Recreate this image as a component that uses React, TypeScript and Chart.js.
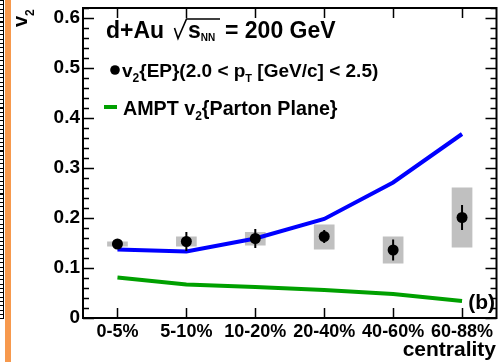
import { useEffect, useRef } from "react";
import { Chart, registerables } from "chart.js";

Chart.register(...registerables);

const categories = ["0-5%", "5-10%", "10-20%", "20-40%", "40-60%", "60-88%"];
const v2EP = [0.148, 0.153, 0.159, 0.163, 0.136, 0.201];
const v2StatErr = [0.004, 0.019, 0.019, 0.013, 0.021, 0.025];
const v2SysLow = [0.143, 0.143, 0.145, 0.137, 0.109, 0.141];
const v2SysHigh = [0.153, 0.163, 0.172, 0.187, 0.163, 0.261];
const amptBlue = [0.137, 0.133, 0.159, 0.198, 0.271, 0.368];
const amptGreen = [0.081, 0.067, 0.062, 0.056, 0.048, 0.034];
const yTickValues = [0, 0.1, 0.2, 0.3, 0.4, 0.5, 0.6];
const yMinorStep = 0.02;
const yMin = 0;
const yMax = 0.62;

const FONT = "'Liberation Sans', Arial, Helvetica, sans-serif";

type Run = { t: string; size: number; dy?: number };

function drawRuns(ctx: CanvasRenderingContext2D, x: number, y: number, runs: Run[]) {
  let cx = x;
  for (const r of runs) {
    ctx.font = `bold ${r.size}px ${FONT}`;
    ctx.fillText(r.t, cx, y + (r.dy || 0));
    cx += ctx.measureText(r.t).width;
  }
  return cx;
}

const overlay = {
  id: "overlay",
  beforeDatasetsDraw(chart: any) {
    const { ctx } = chart;
    const x = chart.scales.x;
    const y = chart.scales.y;
    const band = (x.getPixelForValue(1) - x.getPixelForValue(0)) * 0.3;
    ctx.save();
    ctx.fillStyle = "#c0c0c0";
    categories.forEach((_, i) => {
      const cx = x.getPixelForValue(i);
      const top = y.getPixelForValue(v2SysHigh[i]);
      const bot = y.getPixelForValue(v2SysLow[i]);
      ctx.fillRect(cx - band / 2, top, band, bot - top);
    });
    ctx.restore();
  },
  afterDatasetsDraw(chart: any) {
    const { ctx } = chart;
    const x = chart.scales.x;
    const y = chart.scales.y;
    ctx.save();
    ctx.strokeStyle = "#000";
    ctx.lineWidth = 2;
    categories.forEach((_, i) => {
      const cx = x.getPixelForValue(i);
      ctx.beginPath();
      ctx.moveTo(cx, y.getPixelForValue(v2EP[i] + v2StatErr[i]));
      ctx.lineTo(cx, y.getPixelForValue(v2EP[i] - v2StatErr[i]));
      ctx.stroke();
    });
    ctx.restore();
  },
  afterDraw(chart: any) {
    const { ctx, chartArea } = chart;
    const { left, right, top, bottom } = chartArea;
    const x = chart.scales.x;
    const y = chart.scales.y;
    ctx.save();
    ctx.strokeStyle = "#000";
    ctx.lineWidth = 1.5;
    // y ticks (inside, both sides)
    const n = Math.round((yMax - yMin) / yMinorStep);
    for (let k = 0; k <= n; k++) {
      const v = yMin + k * yMinorStep;
      if (v > yMax + 1e-9) break;
      const py = Math.round(y.getPixelForValue(v)) + 0.5;
      const major = k % 5 === 0;
      const len = major ? 11 : 6;
      ctx.beginPath();
      ctx.moveTo(left, py);
      ctx.lineTo(left + len, py);
      ctx.moveTo(right, py);
      ctx.lineTo(right - len, py);
      ctx.stroke();
    }
    // x ticks top and bottom
    categories.forEach((_, i) => {
      const px = Math.round(x.getPixelForValue(i)) + 0.5;
      ctx.beginPath();
      ctx.moveTo(px, top);
      ctx.lineTo(px, top + 10);
      ctx.moveTo(px, bottom);
      ctx.lineTo(px, bottom - 10);
      ctx.stroke();
    });
    // frame
    ctx.lineWidth = 2;
    ctx.strokeRect(left, top, right - left, bottom - top);

    ctx.fillStyle = "#000";
    ctx.textAlign = "left";
    ctx.textBaseline = "alphabetic";

    // Title: d+Au sqrt(s_NN) = 200 GeV
    drawRuns(ctx, 106, 38, [{ t: "d+Au", size: 23 }]);
    ctx.lineWidth = 1.6;
    ctx.beginPath();
    ctx.moveTo(174.5, 28);
    ctx.lineTo(178, 38.5);
    ctx.lineTo(186.5, 19);
    ctx.lineTo(220, 19);
    ctx.stroke();
    drawRuns(ctx, 188, 38, [{ t: "s", size: 23 }, { t: "NN", size: 10, dy: 3 }]);
    drawRuns(ctx, 225, 38, [{ t: "= 200 GeV", size: 23 }]);

    // Legend row 1
    ctx.beginPath();
    ctx.arc(115, 70, 4.8, 0, Math.PI * 2);
    ctx.fill();
    drawRuns(ctx, 122, 77, [
      { t: "v", size: 19 },
      { t: "2", size: 12, dy: 5 },
      { t: "{EP}(2.0 < p", size: 19 },
      { t: "T", size: 11, dy: 5 },
      { t: " [GeV/c] < 2.5)", size: 19 },
    ]);

    // Legend row 2
    ctx.fillStyle = "#00a000";
    ctx.fillRect(104, 105, 13, 4);
    ctx.fillStyle = "#000";
    drawRuns(ctx, 123, 115, [
      { t: "AMPT v", size: 19.7 },
      { t: "2", size: 12, dy: 5 },
      { t: "{Parton Plane}", size: 19.7 },
    ]);

    // (b)
    ctx.textAlign = "right";
    ctx.font = `bold 21px ${FONT}`;
    ctx.fillText("(b)", 495, 309);

    // x title
    ctx.fillText("centrality", 496, 356);

    // y title rotated
    ctx.textAlign = "left";
    ctx.translate(27, 27);
    ctx.rotate(-Math.PI / 2);
    drawRuns(ctx, 0, 0, [
      { t: "v", size: 20 },
      { t: "2", size: 12, dy: 7 },
    ]);
    ctx.restore();
  },
};

export default function App() {
  const ref = useRef<HTMLCanvasElement>(null);
  useEffect(() => {
    const chart = new Chart(ref.current as HTMLCanvasElement, {
      type: "line",
      data: {
        labels: categories,
        datasets: [
          {
            label: "v2{EP}",
            data: v2EP,
            showLine: false,
            pointRadius: 5.5,
            pointBackgroundColor: "#000",
            pointBorderColor: "#000",
            pointBorderWidth: 0,
            borderColor: "#000",
          },
          {
            label: "AMPT v2 (blue)",
            data: amptBlue,
            borderColor: "#0000ff",
            borderWidth: 4,
            pointRadius: 0,
            tension: 0,
            fill: false,
          },
          {
            label: "AMPT v2{Parton Plane}",
            data: amptGreen,
            borderColor: "#00a000",
            borderWidth: 4,
            pointRadius: 0,
            tension: 0,
            fill: false,
          },
        ],
      },
      options: {
        responsive: false,
        animation: false,
        devicePixelRatio: 1,
        layout: { padding: { top: 8, right: 5, left: 0, bottom: 0 } },
        plugins: { legend: { display: false }, tooltip: { enabled: false } },
        scales: {
          x: {
            type: "category",
            offset: true,
            grid: { display: false, drawTicks: false },
            border: { display: false },
            ticks: {
              color: "#000",
              font: { family: FONT, size: 18, weight: "bold" },
              padding: 3,
              maxRotation: 0,
              autoSkip: false,
            },
            afterFit: (s: any) => {
              s.height = 44;
              s.paddingLeft = 0;
              s.paddingRight = 0;
            },
          },
          y: {
            min: yMin,
            max: yMax,
            grid: { display: false, drawTicks: false },
            border: { display: false },
            ticks: {
              color: "#000",
              font: { family: FONT, size: 19, weight: "bold" },
              padding: 3,
              callback: (v: any) => (Number(v) === 0 ? "0" : Number(v).toFixed(1)),
            },
            afterBuildTicks: (s: any) => {
              s.ticks = yTickValues.map((v) => ({ value: v }));
            },
            afterFit: (s: any) => {
              s.width = 83;
              s.paddingTop = 0;
              s.paddingBottom = 0;
            },
          },
        },
      },
      plugins: [overlay],
    } as any);
    return () => chart.destroy();
  }, []);
  return (
    <div
      style={{
        position: "fixed",
        left: 0,
        top: 0,
        width: 502,
        height: 362,
        background: "#fff",
        overflow: "hidden",
      }}
    >
      <div
        style={{
          position: "absolute",
          left: 0,
          top: 0,
          width: 3,
          height: 318,
          borderRight: "1px solid #000",
          borderBottom: "1px solid #000",
          backgroundImage:
            "repeating-linear-gradient(to bottom, #000 0px, #000 1px, transparent 1px, transparent 4.3px)",
        }}
      />
      <div
        style={{
          position: "absolute",
          left: 5,
          top: 0,
          width: 6,
          height: 362,
          background: "#f7994d",
        }}
      />
      <canvas
        ref={ref}
        width={502}
        height={362}
        style={{ position: "absolute", left: 0, top: 0, width: 502, height: 362 }}
      />
    </div>
  );
}
